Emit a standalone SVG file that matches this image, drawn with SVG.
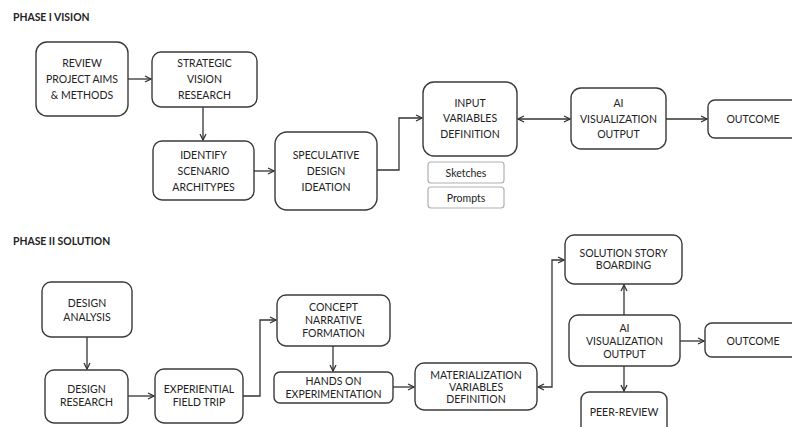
<svg xmlns="http://www.w3.org/2000/svg" width="792" height="427" viewBox="0 0 792 427">
<style>
.bg{fill:#fff}
.box{fill:#fff;stroke:#3a3a3a;stroke-width:1.4}
.sub{fill:#fff;stroke:#b0b0b0;stroke-width:1.2}
.t{font-family:Lato,"Liberation Sans",sans-serif;font-size:10.5px;fill:#222;text-anchor:middle;dominant-baseline:central}
.ts{font-family:Lato,"Liberation Sans",sans-serif;font-size:10.5px;fill:#222;text-anchor:middle;dominant-baseline:central}
.h{font-family:Lato,"Liberation Sans",sans-serif;font-size:10.4px;font-weight:bold;fill:#222}
.c{fill:none;stroke:#333;stroke-width:1.3}
</style>
<defs>
<marker id="a" viewBox="0 0 8 8" refX="7" refY="4" markerWidth="8" markerHeight="8" markerUnits="userSpaceOnUse" orient="auto-start-reverse">
<path d="M1,1 L7,4 L1,7" fill="none" stroke="#333" stroke-width="1.3"/>
</marker>
</defs>
<rect class="bg" x="0" y="0" width="792" height="427"/>
<text class="h" x="13" y="21">PHASE I VISION</text>
<text class="h" x="13" y="245">PHASE II SOLUTION</text>

<g id="connectors">
<line class="c" x1="128" y1="79" x2="151" y2="79" marker-end="url(#a)"/>
<line class="c" x1="203" y1="107" x2="203" y2="140" marker-end="url(#a)"/>
<line class="c" x1="254" y1="171" x2="274" y2="171" marker-end="url(#a)"/>
<polyline class="c" points="377,170 399,170 399,118 422,118" marker-end="url(#a)"/>
<line class="c" x1="518" y1="119" x2="570" y2="119" marker-start="url(#a)" marker-end="url(#a)"/>
<line class="c" x1="666" y1="119" x2="707" y2="119" marker-end="url(#a)"/>

<line class="c" x1="87" y1="337" x2="87" y2="369" marker-end="url(#a)"/>
<line class="c" x1="128" y1="396" x2="154" y2="396" marker-end="url(#a)"/>
<polyline class="c" points="243,396 260,396 260,320 276,320" marker-end="url(#a)"/>
<line class="c" x1="333" y1="346" x2="333" y2="371" marker-end="url(#a)"/>
<line class="c" x1="393" y1="387" x2="414" y2="387" marker-end="url(#a)"/>
<polyline class="c" points="538,387 552,387 552,260 564,260" marker-start="url(#a)" marker-end="url(#a)"/>
<line class="c" x1="624" y1="315" x2="624" y2="285" marker-end="url(#a)"/>
<line class="c" x1="624" y1="366" x2="624" y2="391" marker-end="url(#a)"/>
<line class="c" x1="680" y1="341" x2="704" y2="341" marker-end="url(#a)"/>
</g>

<g id="review"><rect class="box" x="36" y="42" width="92" height="74" rx="11"/>
<text class="t" x="82" y="63">REVIEW</text><text class="t" x="82" y="79">PROJECT AIMS</text><text class="t" x="82" y="95">&amp; METHODS</text></g>
<g id="strategic"><rect class="box" x="152" y="52" width="105" height="55" rx="9"/>
<text class="t" x="204.5" y="63">STRATEGIC</text><text class="t" x="204.5" y="79">VISION</text><text class="t" x="204.5" y="95">RESEARCH</text></g>
<g id="identify"><rect class="box" x="153" y="141" width="101" height="59" rx="9"/>
<text class="t" x="203.5" y="155">IDENTIFY</text><text class="t" x="203.5" y="171">SCENARIO</text><text class="t" x="203.5" y="187">ARCHITYPES</text></g>
<g id="speculative"><rect class="box" x="275" y="132" width="102" height="78" rx="12"/>
<text class="t" x="326" y="155">SPECULATIVE</text><text class="t" x="326" y="171">DESIGN</text><text class="t" x="326" y="187">IDEATION</text></g>
<g id="input"><rect class="box" x="423" y="82" width="94" height="74" rx="11"/>
<text class="t" x="470" y="103">INPUT</text><text class="t" x="470" y="118">VARIABLES</text><text class="t" x="470" y="134">DEFINITION</text></g>
<g id="sketches"><rect class="sub" x="428" y="162" width="76" height="21" rx="3"/>
<text class="ts" x="466" y="173">Sketches</text></g>
<g id="prompts"><rect class="sub" x="428" y="187" width="76" height="21" rx="3"/>
<text class="ts" x="466" y="198">Prompts</text></g>
<g id="ai1"><rect class="box" x="571" y="88" width="95" height="61" rx="10"/>
<text class="t" x="618.5" y="103">AI</text><text class="t" x="618.5" y="119">VISUALIZATION</text><text class="t" x="618.5" y="134">OUTPUT</text></g>
<g id="outcome1"><rect class="box" x="708" y="100" width="100" height="38" rx="7"/>
<text class="t" x="753" y="119">OUTCOME</text></g>

<g id="analysis"><rect class="box" x="42" y="282" width="90" height="55" rx="9"/>
<text class="t" x="87" y="303">DESIGN</text><text class="t" x="87" y="317">ANALYSIS</text></g>
<g id="research"><rect class="box" x="45" y="370" width="83" height="53" rx="9"/>
<text class="t" x="86.5" y="389">DESIGN</text><text class="t" x="86.5" y="402">RESEARCH</text></g>
<g id="fieldtrip"><rect class="box" x="155" y="369" width="88" height="54" rx="9"/>
<text class="t" x="199" y="389">EXPERIENTIAL</text><text class="t" x="199" y="402">FIELD TRIP</text></g>
<g id="concept"><rect class="box" x="277" y="295" width="113" height="51" rx="9"/>
<text class="t" x="333.5" y="307">CONCEPT</text><text class="t" x="333.5" y="320">NARRATIVE</text><text class="t" x="333.5" y="333">FORMATION</text></g>
<g id="handson"><rect class="box" x="274" y="372" width="119" height="31" rx="6"/>
<text class="t" x="333.5" y="381">HANDS ON</text><text class="t" x="333.5" y="394">EXPERIMENTATION</text></g>
<g id="materialization"><rect class="box" x="415" y="363" width="122" height="47" rx="9"/>
<text class="t" x="476" y="375">MATERIALIZATION</text><text class="t" x="476" y="387">VARIABLES</text><text class="t" x="476" y="399">DEFINITION</text></g>
<g id="storyboard"><rect class="box" x="565" y="235" width="117" height="49" rx="9"/>
<text class="t" x="623.5" y="253">SOLUTION STORY</text><text class="t" x="623.5" y="265">BOARDING</text></g>
<g id="ai2"><rect class="box" x="569" y="315" width="111" height="51" rx="9"/>
<text class="t" x="624.5" y="328">AI</text><text class="t" x="624.5" y="341">VISUALIZATION</text><text class="t" x="624.5" y="354">OUTPUT</text></g>
<g id="outcome2"><rect class="box" x="705" y="323" width="100" height="34" rx="7"/>
<text class="t" x="753" y="341">OUTCOME</text></g>
<g id="peerreview"><rect class="box" x="581" y="392" width="86" height="50" rx="8"/>
<text class="t" x="624" y="412">PEER-REVIEW</text></g>
</svg>
